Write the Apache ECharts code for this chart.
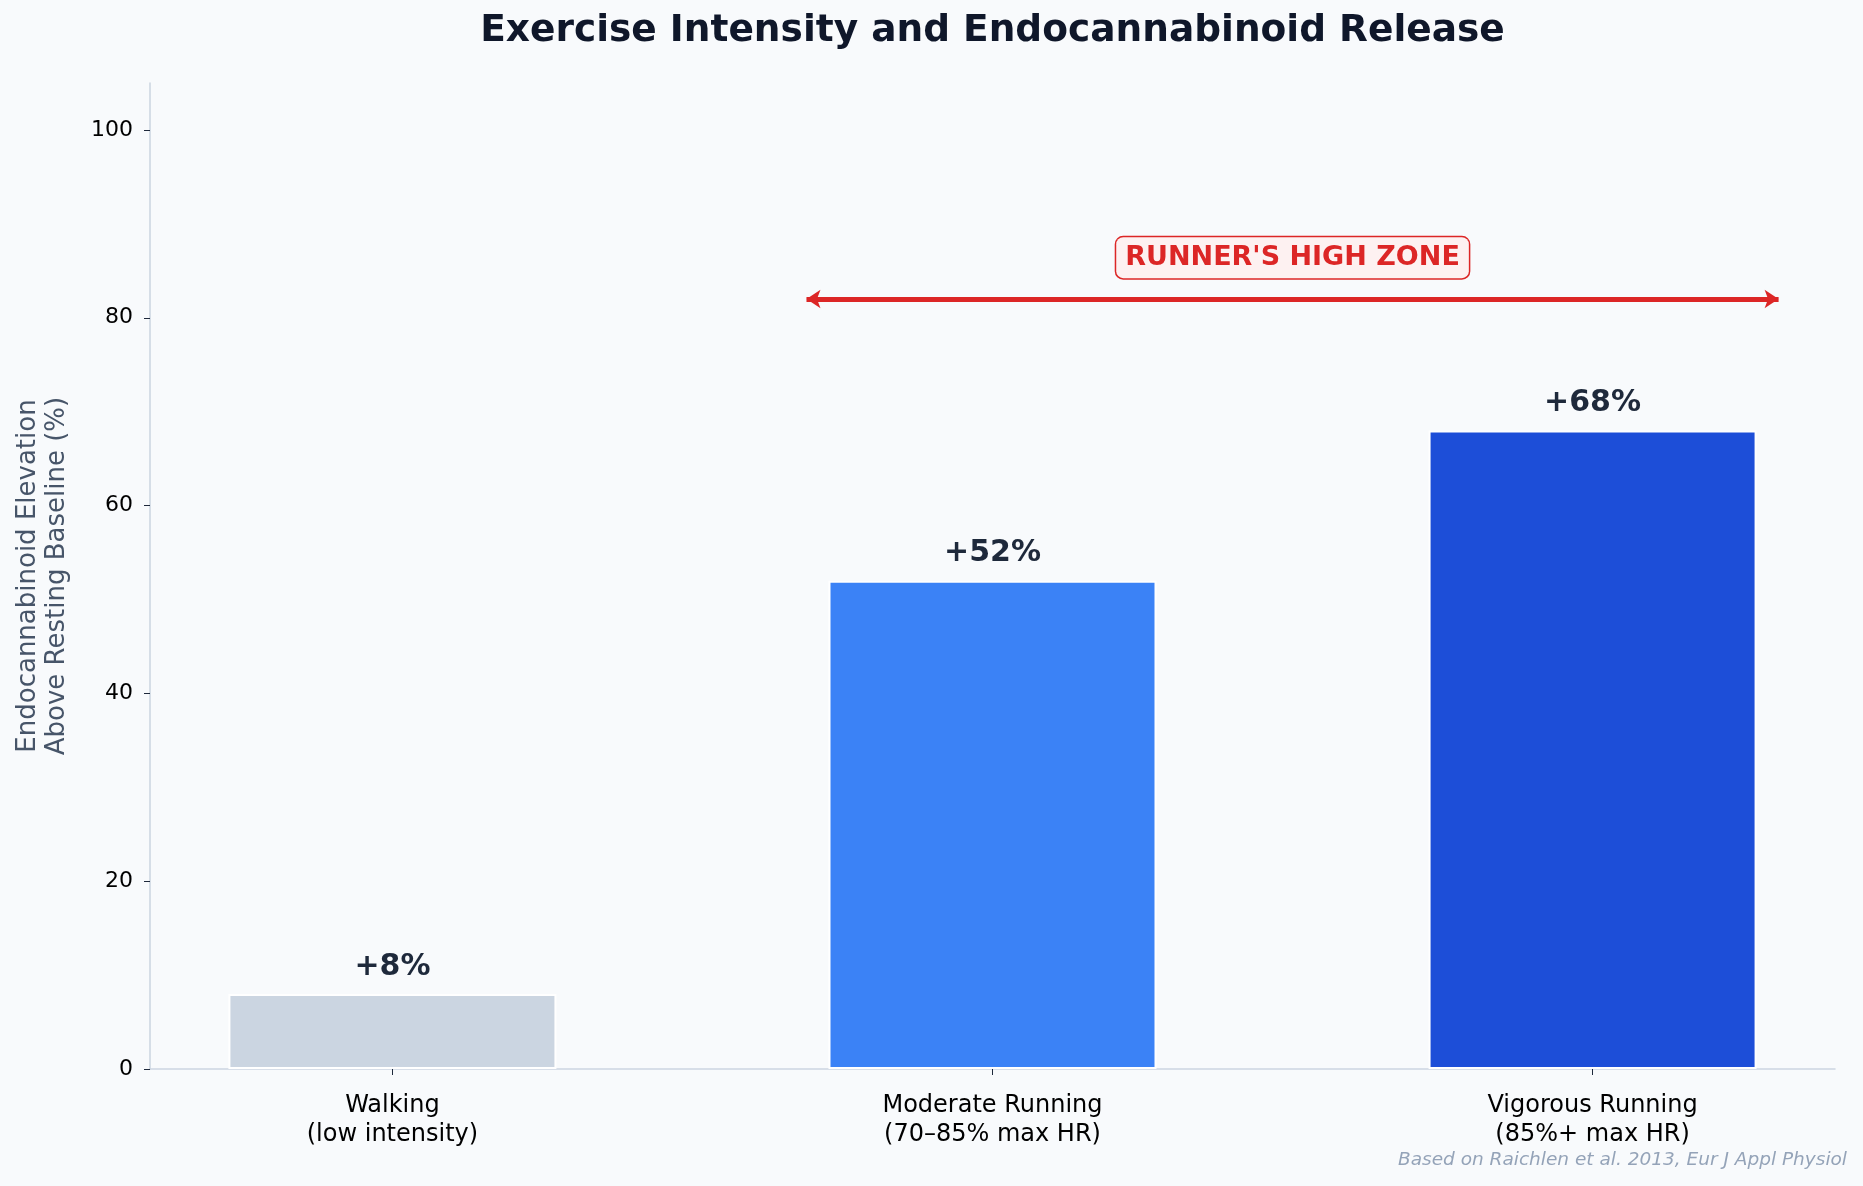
<!DOCTYPE html>
<html>
<head>
  <meta charset="UTF-8">
  <script src="https://cdn.jsdelivr.net/npm/echarts@6/dist/echarts.min.js"></script>
  <style>
    html, body { margin: 0; padding: 0; background: #f8fafc; }
    #main { width: 1863px; height: 1186px; }
  </style>
</head>
<body>
  <div id="main"></div>
  <script>
    // data
    var categories = ['Walking\n(low intensity)', 'Moderate Running\n(70–85% max HR)', 'Vigorous Running\n(85%+ max HR)'];
    var values = [8, 52, 68];
    var barColors = ['#cbd5e1', '#3b82f6', '#1d4ed8'];
    var yTicks = [0, 20, 40, 60, 80, 100];
    var catTicks = [0, 1, 2];
    // runner's high zone arrow (x in category units, y in %)
    var zoneFrom = 0.69, zoneTo = 2.31, zoneY = 82, zoneLabelX = 1.5, zoneLabelY = 86.4;

    var myChart = echarts.init(document.getElementById('main'));
    var font = 'DejaVu Sans';
    var gridLeft = 150, gridRight = 28;

    myChart.setOption({
      backgroundColor: '#f8fafc',
      animation: false,
      textStyle: { fontFamily: font },
      grid: { left: gridLeft, right: gridRight, top: 83, bottom: 117 },
      xAxis: {
        type: 'value',
        min: -0.404,
        max: 2.404,
        axisLine: { show: true, onZero: false, lineStyle: { color: '#cbd5e1', width: 1.5 } },
        axisTick: { show: true, customValues: catTicks, length: 6, lineStyle: { color: '#1e293b' } },
        axisLabel: {
          customValues: catTicks,
          formatter: function (v) { return categories[Math.round(v)]; },
          fontSize: 24, color: '#000', lineHeight: 29, margin: 22
        },
        splitLine: { show: false }
      },
      yAxis: {
        type: 'value',
        min: 0,
        max: 105,
        name: 'Endocannabinoid Elevation\nAbove Resting Baseline (%)',
        nameLocation: 'middle',
        nameGap: 78,
        nameTextStyle: { fontSize: 26, color: '#475569', lineHeight: 29 },
        axisLine: { show: true, onZero: false, lineStyle: { color: '#cbd5e1', width: 1.5 } },
        axisTick: { show: true, customValues: yTicks, length: 6, lineStyle: { color: '#1e293b' } },
        axisLabel: { customValues: yTicks, fontSize: 22, color: '#000', margin: 17 },
        splitLine: { show: false }
      },
      series: [
        {
          type: 'bar',
          barWidth: 328,
          data: values.map(function (v, i) {
            return { value: [i, v], itemStyle: { color: barColors[i] } };
          }),
          itemStyle: { borderColor: '#ffffff', borderWidth: 2 },
          label: {
            show: true,
            position: 'top',
            distance: 12,
            formatter: function (p) { return '+' + p.value[1] + '%'; },
            fontSize: 30, fontWeight: 'bold', color: '#1e293b'
          },
          markLine: {
            silent: true,
            symbol: ['arrow', 'arrow'],
            symbolSize: [14, 14],
            label: { show: false },
            lineStyle: { color: '#dc2626', width: 5, type: 'solid', opacity: 1 },
            data: [[{ coord: [zoneFrom, zoneY] }, { coord: [zoneTo, zoneY] }]]
          }
        },
        {
          type: 'scatter',
          symbolSize: 0,
          silent: true,
          itemStyle: { opacity: 1 },
          data: [[zoneLabelX, zoneLabelY]],
          label: {
            show: true,
            position: 'inside',
            formatter: "RUNNER'S HIGH ZONE",
            fontSize: 27, fontWeight: 'bold', color: '#dc2626',
            backgroundColor: '#fdf1f1',
            borderColor: '#dc2626', borderWidth: 1.5, borderRadius: 7,
            padding: [8, 9, 6, 9]
          }
        }
      ],
      graphic: [
        {
          type: 'text',
          x: gridLeft + (1863 - gridLeft - gridRight) / 2,
          y: 12,
          style: {
            text: 'Exercise Intensity and Endocannabinoid Release',
            textAlign: 'center',
            fontFamily: font, fontSize: 37.5, fontWeight: 'bold', fill: '#0f172a'
          }
        },
        {
          type: 'text',
          right: 16,
          top: 1151,
          style: {
            text: 'Based on Raichlen et al. 2013, Eur J Appl Physiol',
            fontFamily: font, fontSize: 18.5, fontStyle: 'italic', fill: '#94a3b8'
          }
        }
      ]
    });
  </script>
</body>
</html>
